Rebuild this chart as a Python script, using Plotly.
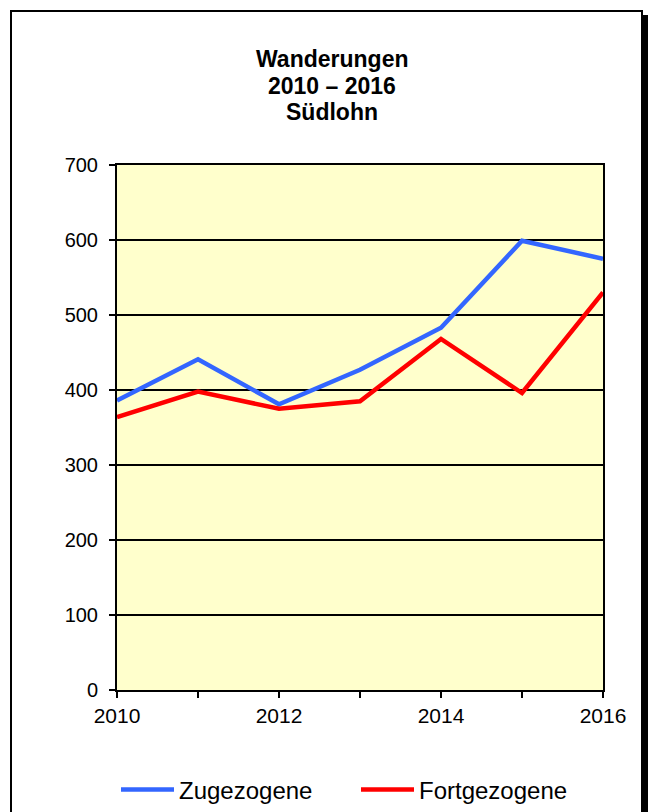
import plotly.graph_objects as go

years = [2010, 2011, 2012, 2013, 2014, 2015, 2016]
zugezogene = [386, 441, 381, 427, 483, 599, 575]
fortgezogene = [364, 398, 375, 385, 468, 396, 530]
x_tick_vals = [2010, 2011, 2012, 2013, 2014, 2015, 2016]
x_tick_text = ["2010", "", "2012", "", "2014", "", "2016"]
y_tick_vals = [0, 100, 200, 300, 400, 500, 600, 700]
title_lines = ["Wanderungen", "2010 – 2016", "Südlohn"]

W, H = 648, 812
# plot area in page pixels
PX0, PX1, PY0, PY1 = 117, 603, 165, 690
L, R, T, B = PX0, W - PX1, PY0, H - PY1
pw, ph = PX1 - PX0, PY1 - PY0

def px_x(p):
    return (p - PX0) / pw

def px_y(p):
    return (PY1 - p) / ph

FONT = "Liberation Sans, Arial, sans-serif"

fig = go.Figure()
fig.add_trace(go.Scatter(x=years, y=zugezogene, mode="lines", name="Zugezogene",
                         line=dict(color="#3366FF", width=4.5)))
fig.add_trace(go.Scatter(x=years, y=fortgezogene, mode="lines", name="Fortgezogene",
                         line=dict(color="#FF0000", width=4.5)))

shapes = [
    dict(type="rect", xref="paper", yref="paper", layer="below",
         x0=px_x(16), x1=px_x(660), y0=px_y(840), y1=px_y(15),
         fillcolor="black", line=dict(width=0)),
    dict(type="rect", xref="paper", yref="paper", layer="below",
         x0=px_x(11), x1=px_x(642), y0=px_y(840), y1=px_y(11),
         fillcolor="white", line=dict(color="black", width=2)),
    dict(type="rect", xref="paper", yref="paper", layer="below",
         x0=0, x1=1, y0=0, y1=1,
         fillcolor="#FFFFCC", line=dict(width=0)),
]

title_y = [59, 86, 112]
annotations = [
    dict(text="<b>%s</b>" % t, xref="paper", yref="paper", x=px_x(332), y=px_y(yy),
         xanchor="center", yanchor="middle", showarrow=False,
         font=dict(size=23, family=FONT, color="black"))
    for t, yy in zip(title_lines, title_y)
]

fig.update_layout(
    width=W, height=H,
    margin=dict(l=L, r=R, t=T, b=B, pad=0, autoexpand=False),
    paper_bgcolor="white",
    plot_bgcolor="#FFFFCC",
    font=dict(family=FONT, size=20, color="black"),
    shapes=shapes,
    annotations=annotations,
    showlegend=True,
    legend=dict(orientation="h", x=px_x(116), xanchor="left", y=px_y(790), yanchor="middle",
                font=dict(size=24, family=FONT, color="black"), bgcolor="rgba(0,0,0,0)",
                itemwidth=53, entrywidth=172, entrywidthmode="pixels"),
)

fig.update_xaxes(range=[2010, 2016], tickvals=x_tick_vals, ticktext=x_tick_text,
                 showgrid=False, zeroline=False, showline=True, linecolor="black", linewidth=2,
                 mirror=True, ticks="outside", ticklen=6, tickwidth=2, tickcolor="black",
                 tickfont=dict(size=21, family=FONT, color="black"))
fig.update_yaxes(range=[0, 700], tickvals=y_tick_vals,
                 showgrid=True, gridcolor="black", gridwidth=2, zeroline=False,
                 showline=True, linecolor="black", linewidth=2, mirror=True,
                 ticks="outside", ticklen=6, tickwidth=2, tickcolor="black",
                 ticklabelstandoff=7,
                 tickfont=dict(size=20, family=FONT, color="black"))

fig.write_html("out.html", config={"displayModeBar": False},
               post_script="document.body.style.margin='0px';document.body.style.overflow='hidden';")
